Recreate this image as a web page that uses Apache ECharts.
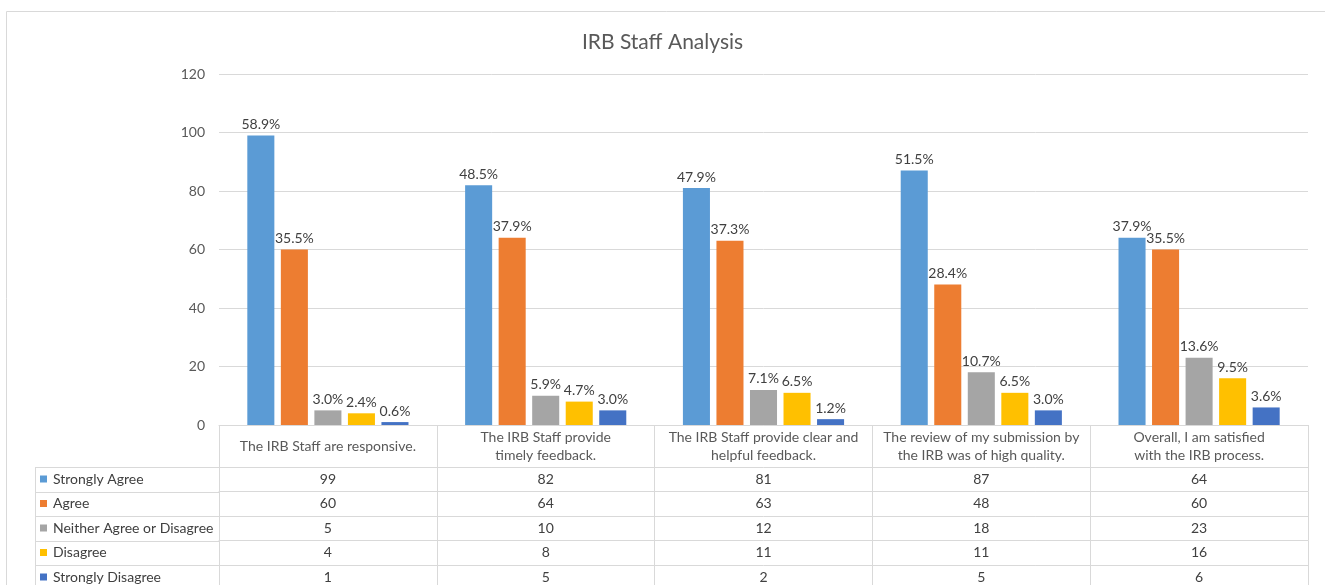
<!DOCTYPE html>
<html>
<head>
<meta charset="utf-8">
<title>IRB Staff Analysis</title>
<script src="https://cdn.jsdelivr.net/npm/echarts@6/dist/echarts.min.js"></script>
<style>
  html, body { margin: 0; padding: 0; background: #fff; }
  #chart { width: 1325px; height: 585px; }
</style>
</head>
<body>
<div id="chart"></div>
<script>
// data
var categories = [
  "The IRB Staff are responsive.",
  "The IRB Staff provide\ntimely feedback.",
  "The IRB Staff provide clear and\nhelpful feedback.",
  "The review of my submission by\nthe IRB was of high quality.",
  "Overall, I am satisfied\nwith the IRB process."
];
var seriesNames = ["Strongly Agree", "Agree", "Neither Agree or Disagree", "Disagree", "Strongly Disagree"];
var stronglyAgree = [99, 82, 81, 87, 64];
var agree = [60, 64, 63, 48, 60];
var neither = [5, 10, 12, 18, 23];
var disagree = [4, 8, 11, 11, 16];
var stronglyDisagree = [1, 5, 2, 5, 6];
var stronglyAgreePct = ["58.9%", "48.5%", "47.9%", "51.5%", "37.9%"];
var agreePct = ["35.5%", "37.9%", "37.3%", "28.4%", "35.5%"];
var neitherPct = ["3.0%", "5.9%", "7.1%", "10.7%", "13.6%"];
var disagreePct = ["2.4%", "4.7%", "6.5%", "6.5%", "9.5%"];
var stronglyDisagreePct = ["0.6%", "3.0%", "1.2%", "3.0%", "3.6%"];
var yTicks = [0, 20, 40, 60, 80, 100, 120];

var rows = [stronglyAgree, agree, neither, disagree, stronglyDisagree];
var pcts = [stronglyAgreePct, agreePct, neitherPct, disagreePct, stronglyDisagreePct];
var colors = ["#5B9BD5", "#ED7D31", "#A5A5A5", "#FFC000", "#4472C4"];

var font = "Lato, 'Open Sans', sans-serif";
var lineColor = "#d9d9d9";
var gridTop = 74, gridBottom = 160, gridLeft = 219, gridRight = 17;
var headerH = 42, rowH = 24.5;
var tableLeft = 35;

var chart = echarts.init(document.getElementById("chart"));

// x axes: category header + one axis per table row
var xAxes = [{
  type: "category",
  data: categories,
  position: "bottom",
  axisLine: { show: true, lineStyle: { color: lineColor } },
  axisTick: { show: true, length: headerH, interval: 0, lineStyle: { color: lineColor } },
  axisLabel: {
    interval: 0, margin: headerH / 2, verticalAlign: "middle",
    color: "#595959", fontSize: 14, lineHeight: 18, fontFamily: font
  }
}];
rows.forEach(function (row, i) {
  xAxes.push({
    type: "category",
    data: categories,
    position: "bottom",
    offset: headerH + rowH * i,
    axisLine: { show: true, lineStyle: { color: lineColor } },
    axisTick: { show: true, length: rowH, interval: 0, lineStyle: { color: lineColor } },
    axisLabel: {
      interval: 0, margin: rowH / 2, verticalAlign: "middle",
      color: "#404040", fontSize: 14, fontFamily: font,
      formatter: function (v, idx) { return String(row[idx]); }
    }
  });
});

// left column borders of the data table
var graphics = [{
  type: "rect",
  shape: { x: 6.5, y: 11.5, width: 1400, height: 700 },
  style: { fill: null, stroke: lineColor, lineWidth: 1 },
  silent: true
}];
var tableTop = 585 - gridBottom + headerH;
rows.forEach(function (row, i) {
  var y = Math.round(tableTop + rowH * i) + 0.5;
  graphics.push({
    type: "line",
    shape: { x1: tableLeft, y1: y, x2: gridLeft, y2: y },
    style: { stroke: lineColor, lineWidth: 1 },
    silent: true
  });
});
graphics.push({
  type: "line",
  shape: { x1: tableLeft + 0.5, y1: tableTop, x2: tableLeft + 0.5, y2: 600 },
  style: { stroke: lineColor, lineWidth: 1 },
  silent: true
});

var option = {
  animation: false,
  color: colors,
  textStyle: { fontFamily: font },
  title: {
    text: "IRB Staff Analysis",
    left: "center",
    top: 27,
    textStyle: { fontSize: 21, fontWeight: "normal", color: "#595959", fontFamily: font }
  },
  legend: {
    orient: "vertical",
    left: 40,
    top: tableTop + 5,
    height: 150,
    padding: 0,
    itemWidth: 7,
    itemHeight: 7,
    itemGap: rowH - 14,
    icon: "rect",
    selectedMode: false,
    data: seriesNames,
    textStyle: { fontSize: 14, color: "#404040", lineHeight: 14, padding: [0, 0, 0, 1] }
  },
  grid: { left: gridLeft, right: gridRight, top: gridTop, bottom: gridBottom, containLabel: false },
  xAxis: xAxes,
  yAxis: {
    type: "value",
    min: yTicks[0],
    max: yTicks[yTicks.length - 1],
    interval: 20,
    axisLine: { show: false },
    axisTick: { show: false },
    axisLabel: { color: "#595959", fontSize: 14, margin: 14, fontFamily: font },
    splitLine: { lineStyle: { color: lineColor, width: 1 } }
  },
  graphic: graphics,
  series: seriesNames.map(function (name, i) {
    return {
      name: name,
      type: "bar",
      xAxisIndex: 0,
      data: rows[i],
      barGap: "24%",
      barCategoryGap: "26%",
      label: {
        show: true,
        position: "top",
        distance: 4,
        color: "#404040",
        fontSize: 14,
        fontFamily: font,
        formatter: function (p) { return pcts[i][p.dataIndex]; }
      }
    };
  })
};

chart.setOption(option);
window.addEventListener("resize", function () {
  chart.resize();
});
</script>
</body>
</html>
